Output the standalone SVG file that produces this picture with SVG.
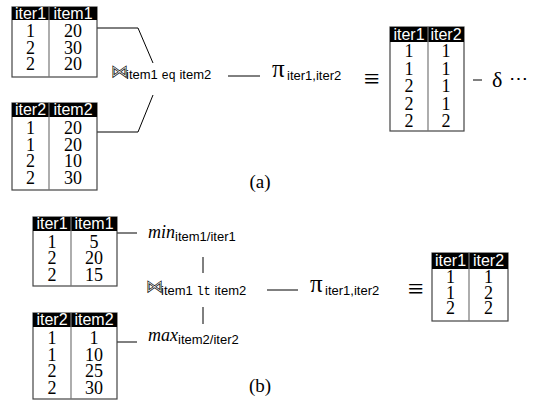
<svg xmlns="http://www.w3.org/2000/svg" width="540" height="403" viewBox="0 0 540 403">
<style>
.hd{fill:#000}
.bd{fill:#fff;stroke:#444;stroke-width:1.2}
.dv{stroke:#777;stroke-width:1.2}
.ht{font-family:"Liberation Sans",Arial,sans-serif;font-size:16px;fill:#fff;text-anchor:middle}
.c{font-family:"Liberation Serif","Times New Roman",serif;font-size:18px;fill:#000;text-anchor:middle}
.sub{font-family:"Liberation Sans",Arial,sans-serif;font-size:13px;fill:#000}
.mono{font-family:"Liberation Mono","Courier New",monospace;font-size:12px}
.op{font-family:"DejaVu Sans",sans-serif;font-size:17px;fill:none;stroke:#000;stroke-width:0.7}
.eqv{font-family:"Liberation Serif","Times New Roman",serif;font-size:28px;fill:#000}
.gr{font-family:"Liberation Serif","Times New Roman",serif;font-size:25px;fill:#000}
.dl{font-family:"Liberation Serif","Times New Roman",serif;font-size:22px;fill:#000}
.it{font-family:"Liberation Serif","Times New Roman",serif;font-size:18px;font-style:italic;fill:#000}
.lb{font-family:"Liberation Serif","Times New Roman",serif;font-size:19px;fill:#000;text-anchor:middle}
.ln{fill:none;stroke:#000;stroke-width:1}
</style>

<g id="connectors" class="ln">
<polyline points="97,28 138,28 153,63"/>
<polyline points="97,132 138,132 153,95"/>
<line x1="228" y1="76" x2="260" y2="76"/>
<line x1="473" y1="80" x2="482" y2="80"/>
<line x1="117" y1="233" x2="137" y2="233"/>
<line x1="117" y1="342" x2="137" y2="342"/>
<line x1="203" y1="257" x2="203" y2="273"/>
<line x1="203" y1="307" x2="203" y2="324"/>
<line x1="267" y1="290" x2="298" y2="290"/>
</g>

<g id="table-a1">
<rect class="bd" x="12" y="7" width="85" height="70"/>
<rect class="hd" x="12" y="7" width="85" height="13"/>
<line class="dv" x1="49" y1="7" x2="49" y2="77"/>
<text class="ht" x="30.5" y="18.5">iter1</text><text class="ht" x="73" y="18.5">item1</text>
<text class="c" x="30.5" y="37">1</text><text class="c" x="73" y="37">20</text>
<text class="c" x="30.5" y="53.5">2</text><text class="c" x="73" y="53.5">30</text>
<text class="c" x="30.5" y="70">2</text><text class="c" x="73" y="70">20</text>
</g>

<g id="table-a2">
<rect class="bd" x="12" y="103" width="85" height="87"/>
<rect class="hd" x="12" y="103" width="85" height="14"/>
<line class="dv" x1="49" y1="103" x2="49" y2="190"/>
<text class="ht" x="30.5" y="115">iter2</text><text class="ht" x="73" y="115">item2</text>
<text class="c" x="30.5" y="134">1</text><text class="c" x="73" y="134">20</text>
<text class="c" x="30.5" y="150.5">1</text><text class="c" x="73" y="150.5">20</text>
<text class="c" x="30.5" y="167">2</text><text class="c" x="73" y="167">10</text>
<text class="c" x="30.5" y="183.5">2</text><text class="c" x="73" y="183.5">30</text>
</g>

<g id="join-a">
<text class="op" x="111" y="77">⋈</text>
<text class="sub" x="126" y="79">item1 <tspan class="mono">eq</tspan> item2</text>
</g>

<g id="proj-a">
<text class="gr" x="272" y="77">π</text>
<text class="sub" x="287" y="80">iter1,iter2</text>
</g>

<g id="equiv-a">
<text class="eqv" x="364" y="88">≡</text>
</g>

<g id="table-a3">
<rect class="bd" x="390" y="27" width="74" height="104"/>
<rect class="hd" x="390" y="27" width="74" height="15"/>
<line class="dv" x1="428" y1="27" x2="428" y2="131"/>
<text class="ht" x="409" y="39.5">iter1</text><text class="ht" x="446" y="39.5">iter2</text>
<text class="c" x="409" y="57">1</text><text class="c" x="446" y="57">1</text>
<text class="c" x="409" y="74.5">1</text><text class="c" x="446" y="74.5">1</text>
<text class="c" x="409" y="92">2</text><text class="c" x="446" y="92">1</text>
<text class="c" x="409" y="109.5">2</text><text class="c" x="446" y="109.5">1</text>
<text class="c" x="409" y="127">2</text><text class="c" x="446" y="127">2</text>
</g>

<g id="delta-a">
<text class="dl" x="492" y="87">δ</text>
<text class="dl" x="509" y="85" style="font-size:19px">⋯</text>
</g>

<text class="lb" x="260" y="188">(a)</text>

<g id="table-b1">
<rect class="bd" x="33" y="217" width="84" height="69"/>
<rect class="hd" x="33" y="217" width="84" height="14"/>
<line class="dv" x1="71" y1="217" x2="71" y2="286"/>
<text class="ht" x="52" y="229">iter1</text><text class="ht" x="94" y="229">item1</text>
<text class="c" x="52" y="247.5">1</text><text class="c" x="94" y="247.5">5</text>
<text class="c" x="52" y="264">2</text><text class="c" x="94" y="264">20</text>
<text class="c" x="52" y="280.5">2</text><text class="c" x="94" y="280.5">15</text>
</g>

<g id="table-b2">
<rect class="bd" x="33" y="313" width="84" height="86"/>
<rect class="hd" x="33" y="313" width="84" height="14"/>
<line class="dv" x1="71" y1="313" x2="71" y2="399"/>
<text class="ht" x="52" y="325">iter2</text><text class="ht" x="94" y="325">item2</text>
<text class="c" x="52" y="344">1</text><text class="c" x="94" y="344">1</text>
<text class="c" x="52" y="360.5">1</text><text class="c" x="94" y="360.5">10</text>
<text class="c" x="52" y="377">2</text><text class="c" x="94" y="377">25</text>
<text class="c" x="52" y="393.5">2</text><text class="c" x="94" y="393.5">30</text>
</g>

<g id="min-b">
<text class="it" x="148" y="238">min</text>
<text class="sub" x="175" y="241">item1/iter1</text>
</g>

<g id="max-b">
<text class="it" x="148" y="341">max</text>
<text class="sub" x="178" y="344">item2/iter2</text>
</g>

<g id="join-b">
<text class="op" x="146" y="292">⋈</text>
<text class="sub" x="161" y="295">item1 <tspan class="mono">lt</tspan> item2</text>
</g>

<g id="proj-b">
<text class="gr" x="310" y="292">π</text>
<text class="sub" x="325" y="295">iter1,iter2</text>
</g>

<g id="equiv-b">
<text class="eqv" x="408" y="298">≡</text>
</g>

<g id="table-b3">
<rect class="bd" x="432" y="253" width="76" height="68"/>
<rect class="hd" x="432" y="253" width="76" height="16"/>
<line class="dv" x1="469" y1="253" x2="469" y2="321"/>
<text class="ht" x="450.5" y="266">iter1</text><text class="ht" x="488.5" y="266">iter2</text>
<text class="c" x="450.5" y="283">1</text><text class="c" x="488.5" y="283">1</text>
<text class="c" x="450.5" y="298.5">1</text><text class="c" x="488.5" y="298.5">2</text>
<text class="c" x="450.5" y="314">2</text><text class="c" x="488.5" y="314">2</text>
</g>

<text class="lb" x="260" y="392">(b)</text>
</svg>
